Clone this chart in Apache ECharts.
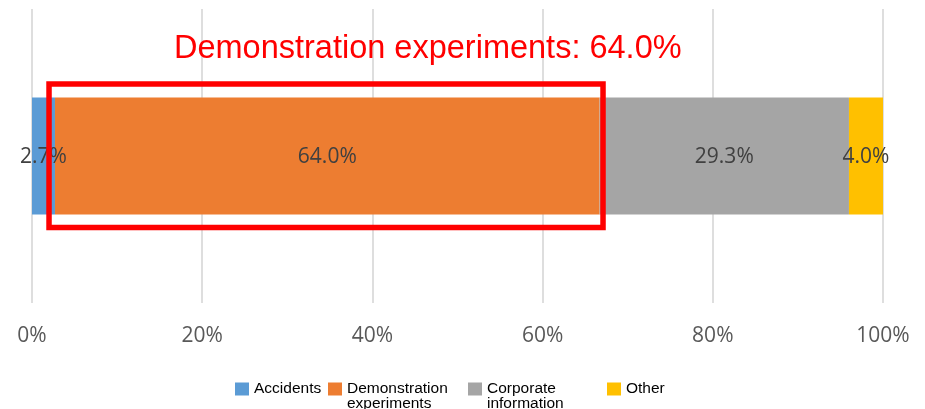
<!DOCTYPE html>
<html>
<head>
<meta charset="utf-8">
<script src="https://cdn.jsdelivr.net/npm/echarts@6/dist/echarts.min.js"></script>
<style>html,body{margin:0;padding:0;background:#fff}#c{width:925px;height:409px}</style>
</head>
<body>
<div id="c"></div>
<script>
const categories = ['Share'];
const seriesNames = ['Accidents', 'Demonstration experiments', 'Corporate information', 'Other'];
const legendLabels = ['Accidents', 'Demonstration\nexperiments', 'Corporate\ninformation', 'Other'];
const seriesValues = [2.7, 64.0, 29.3, 4.0];
const seriesColors = ['#5B9BD5', '#ED7D31', '#A5A5A5', '#FFC000'];
const xTicks = [0, 20, 40, 60, 80, 100];
const highlightRange = [2.0, 67.1];
const titleText = 'Demonstration experiments: 64.0%';

const chart = echarts.init(document.getElementById('c'));
const legendLefts = [235, 328, 468, 607];

const option = {
  animation: false,
  title: {
    text: titleText, left: 174, top: 33, padding: 0,
    textStyle: { color: '#FF0000', fontSize: 32.5, fontWeight: 'normal', fontFamily: 'Liberation Sans, Arial, sans-serif' }
  },
  legend: seriesNames.map((n, i) => {
    const multi = legendLabels[i].indexOf('\n') >= 0;
    return {
      data: [n], left: legendLefts[i], top: multi ? 366 : 381, padding: 0,
      itemWidth: 14, itemHeight: 13, icon: 'rect', selectedMode: false,
      formatter: () => multi ? '\u00a0\n' + legendLabels[i] : legendLabels[i],
      textStyle: {
        fontFamily: 'Liberation Sans, Arial, sans-serif', fontSize: 15.5, color: '#000',
        lineHeight: 15
      }
    };
  }),
  grid: { left: 32, right: 42, top: 9, bottom: 106 },
  xAxis: {
    type: 'value', min: 0, max: 100, interval: 20,
    axisLine: { show: false }, axisTick: { show: false },
    splitLine: { show: true, lineStyle: { color: '#dedede', width: 2 } },
    axisLabel: {
      formatter: v => xTicks.includes(v) ? v + '%' : '',
      color: '#595959', fontSize: 21, fontFamily: 'Open Sans, sans-serif', margin: 23
    }
  },
  yAxis: {
    type: 'category', data: categories,
    axisLine: { show: false }, axisTick: { show: false }, axisLabel: { show: false }, splitLine: { show: false }
  },
  series: seriesNames.map((n, i) => ({
    name: n, type: 'bar', stack: 'total', barWidth: 117,
    itemStyle: { color: seriesColors[i] },
    label: {
      show: true, position: 'inside', color: '#404040', fontSize: 21,
      fontFamily: 'Open Sans, sans-serif', offset: [0, 1],
      formatter: p => p.value.toFixed(1) + '%'
    },
    data: [seriesValues[i]]
  }))
};
chart.setOption(option);

const p0 = chart.convertToPixel({ gridIndex: 0 }, [highlightRange[0], categories[0]]);
const p1 = chart.convertToPixel({ gridIndex: 0 }, [highlightRange[1], categories[0]]);
chart.setOption({
  graphic: [{
    type: 'rect', z: 100,
    shape: { x: p0[0], y: p0[1] - 72, width: p1[0] - p0[0], height: 143.5 },
    style: { fill: 'none', stroke: '#FF0000', lineWidth: 5.5 }
  }]
});
</script>
</body>
</html>
